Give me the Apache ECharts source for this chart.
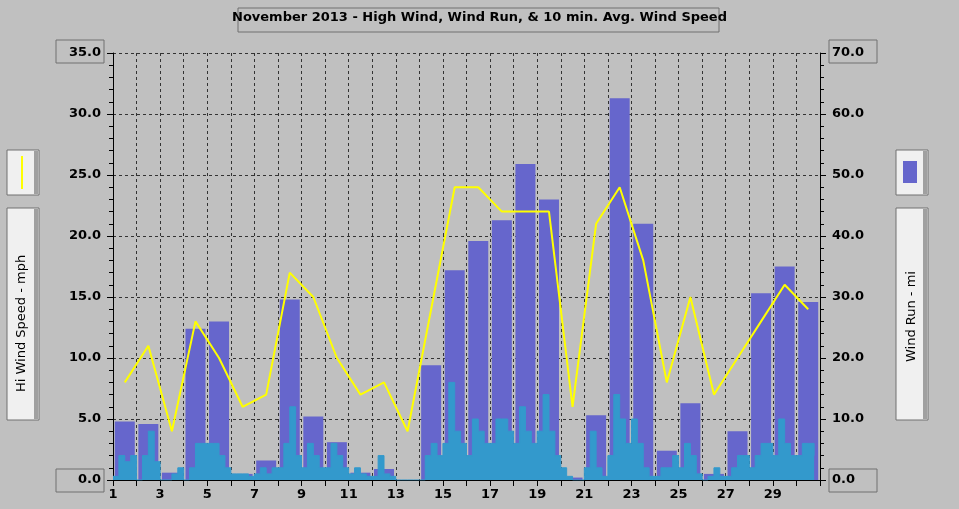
<!DOCTYPE html><html><head><meta charset="utf-8"><script src="https://cdn.jsdelivr.net/npm/echarts@6/dist/echarts.min.js"></script>
<style>body{margin:0;background:#c0c0c0}#c{width:959px;height:509px}</style></head><body><div id="c"></div><script>
const days=[1,2,3,4,5,6,7,8,9,10,11,12,13,14,15,16,17,18,19,20,21,22,23,24,25,26,27,28,29,30];
const windRun=[9.6,9.2,1.2,24.8,26,1,3.2,29.6,10.4,6.2,1.2,1.8,0,18.8,34.4,39.2,42.6,51.8,46,0.4,10.6,62.6,42,4.8,12.6,1,8,30.6,35,29.2];
const hiWind=[8,11,4,13,10,6,7,17,15,10,7,8,4,14,24,24,22,22,22,6,21,24,18,8,15,7,10,13,16,14];
const avgWind=[0.3,2,1.5,2, 0,2,4,1.5, 0,0,0.5,1, 0,1,3,3, 3,3,2,1, 0.5,0.5,0.5,0.3, 0.5,1,0.5,1, 1,3,6,2, 1,3,2,1, 1,3,2,1, 0.5,1,0.5,0.3, 0.3,2,0.5,0.3, 0,0,0,0, 0,2,3,2, 3,8,4,3, 2,5,4,3, 3,5,5,4, 3,6,4,3, 4,7,4,2, 1,0.3,0,0, 1,4,1,0.3, 2,7,5,3, 5,3,1,0.3, 0.3,1,1,2, 1,3,2,0.5, 0,0.3,1,0.3, 0.3,1,2,2, 1,2,3,3, 2,5,3,2, 2,3,3,2];
const F='"DejaVu Sans", sans-serif';
const ch=echarts.init(document.getElementById('c'));
const box=(x,y,w,h,fill)=>({type:'rect',shape:{x,y,width:w,height:h},style:{fill:fill||'none',stroke:'#707070',lineWidth:1}});
ch.setOption({
 backgroundColor:'#c0c0c0',animation:false,
 grid:{left:113,right:139,top:53,bottom:29},
 xAxis:{type:'value',min:1,max:31,interval:1,axisLine:{lineStyle:{color:'#000'}},axisTick:{lineStyle:{color:'#000'},length:6},
  axisLabel:{color:'#000',fontFamily:F,fontWeight:'bold',fontSize:13,formatter:v=>(v%2===1&&v<31)?v:''},
  splitLine:{show:true,lineStyle:{color:'#333',type:[3,3]}}},
 yAxis:[{type:'value',min:0,max:35,interval:5,axisLine:{show:true,lineStyle:{color:'#000'}},axisTick:{show:true,lineStyle:{color:'#000'},length:6},
  minorTick:{show:true,splitNumber:5,length:4,lineStyle:{color:'#000'}},
  axisLabel:{color:'#000',fontFamily:F,fontWeight:'bold',fontSize:13,formatter:v=>v.toFixed(1),margin:12},
  splitLine:{lineStyle:{color:'#333',type:[3,3]}}},
  {type:'value',min:0,max:70,interval:10,position:'right',axisLine:{show:true,lineStyle:{color:'#000'}},axisTick:{show:true,lineStyle:{color:'#000'},length:6},
  minorTick:{show:true,splitNumber:5,length:4,lineStyle:{color:'#000'}},
  axisLabel:{color:'#000',fontFamily:F,fontWeight:'bold',fontSize:13,formatter:v=>v.toFixed(1),margin:12},splitLine:{show:false}}],
 series:[
  {type:'bar',yAxisIndex:1,data:days.map((d,i)=>[d+0.5,windRun[i]]),barWidth:20,itemStyle:{color:'#6666cc'}},
  {type:'line',step:'end',symbol:'none',data:avgWind.map((v,i)=>[1+i*0.25,v]),lineStyle:{color:'#3399cc',width:1},areaStyle:{color:'#3399cc',opacity:1}},
  {type:'line',symbol:'none',data:days.map((d,i)=>[d+0.5,hiWind[i]]),lineStyle:{color:'#ffff00',width:2}}
 ],
 graphic:[
  box(238,8,481,24,'#c0c0c0'),
  {type:'text',left:'center',top:11,x:0,style:{text:'November 2013 - High Wind, Wind Run, & 10 min. Avg. Wind Speed',font:'bold 13px '+F,fill:'#000'}},
  box(7,150,32,45,'#f0f0f0'),{type:'rect',shape:{x:34,y:151,width:4,height:43},style:{fill:'#a0a0a0'}},
  {type:'line',shape:{x1:22,y1:156,x2:22,y2:189},style:{stroke:'#ffff00',lineWidth:2}},
  box(7,208,32,212,'#f0f0f0'),{type:'rect',shape:{x:34,y:209,width:4,height:210},style:{fill:'#a0a0a0'}},
  {type:'text',x:15,y:392,rotation:Math.PI/2,style:{text:'Hi Wind Speed - mph',font:'13px '+F,fill:'#000'}},
  box(896,150,32,45,'#f0f0f0'),{type:'rect',shape:{x:923,y:151,width:4,height:43},style:{fill:'#a0a0a0'}},
  {type:'rect',shape:{x:903,y:161,width:14,height:22},style:{fill:'#6666cc'}},
  box(896,208,32,212,'#f0f0f0'),{type:'rect',shape:{x:923,y:209,width:4,height:210},style:{fill:'#a0a0a0'}},
  {type:'text',x:905,y:362,rotation:Math.PI/2,style:{text:'Wind Run - mi',font:'13px '+F,fill:'#000'}},
  box(56,40,48,23),box(56,469,48,23),box(829,40,48,23),box(829,469,48,23)
 ]
});
</script></body></html>
